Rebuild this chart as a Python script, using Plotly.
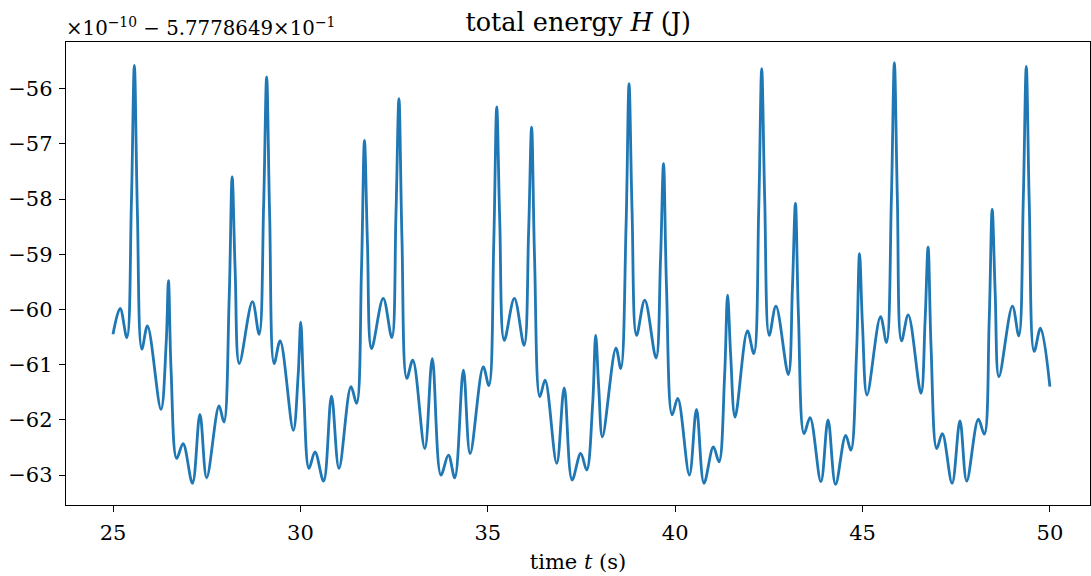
import plotly.graph_objects as go

# time (s)
t_s = [25.00, 25.19, 25.37, 25.49, 25.57, 25.65, 25.77, 25.92, 26.28, 26.42,
       26.48, 26.55, 26.70, 26.87, 27.12, 27.32, 27.50, 27.83, 27.96, 28.10,
       28.18, 28.26, 28.37, 28.72, 28.90, 29.02, 29.10, 29.18, 29.30, 29.46,
       29.81, 29.94, 30.01, 30.09, 30.23, 30.39, 30.62, 30.83, 31.03, 31.35,
       31.50, 31.63, 31.71, 31.79, 31.90, 32.21, 32.44, 32.55, 32.63, 32.71,
       32.84, 33.00, 33.32, 33.52, 33.75, 33.95, 34.12, 34.35, 34.53, 34.88,
       35.03, 35.16, 35.24, 35.32, 35.44, 35.71, 35.97, 36.09, 36.17, 36.25,
       36.39, 36.53, 36.84, 37.04, 37.25, 37.48, 37.64, 37.80, 37.88, 37.96,
       38.06, 38.42, 38.55, 38.69, 38.77, 38.85, 38.97, 39.19, 39.49, 39.61,
       39.69, 39.77, 39.92, 40.07, 40.38, 40.57, 40.77, 41.02, 41.17, 41.32,
       41.40, 41.48, 41.60, 41.93, 42.10, 42.23, 42.31, 42.39, 42.51, 42.69,
       43.02, 43.13, 43.21, 43.29, 43.44, 43.60, 43.89, 44.08, 44.28, 44.55,
       44.69, 44.84, 44.92, 45.00, 45.12, 45.48, 45.64, 45.77, 45.85, 45.93,
       46.04, 46.22, 46.56, 46.67, 46.75, 46.83, 46.98, 47.13, 47.39, 47.60,
       47.78, 48.09, 48.25, 48.38, 48.46, 48.54, 48.64, 49.00, 49.17, 49.29,
       49.37, 49.45, 49.58, 49.75, 50.00]

# total energy offset values (x1e-10, relative to 5.7778649e-1)
energy = [-60.45, -59.98, -60.51, -58.10, -55.58, -58.20, -60.72, -60.30, -61.81, -60.60,
          -59.48, -61.10, -62.70, -62.43, -63.15, -61.90, -63.05, -61.75, -62.04, -59.80,
          -57.60, -59.30, -60.98, -59.86, -60.45, -58.10, -55.79, -58.30, -60.98, -60.57,
          -62.19, -61.20, -60.23, -61.50, -62.88, -62.58, -63.11, -61.57, -62.88, -61.40,
          -61.70, -59.30, -56.94, -58.80, -60.71, -59.80, -60.51, -58.30, -56.18, -58.70,
          -61.25, -60.92, -62.52, -60.89, -63.00, -62.64, -63.05, -61.10, -62.61, -61.04,
          -61.38, -58.80, -56.33, -58.40, -60.56, -59.80, -60.65, -58.60, -56.70, -59.10,
          -61.58, -61.28, -62.79, -61.42, -63.09, -62.61, -62.91, -61.70, -60.47, -61.40,
          -62.31, -60.70, -61.07, -58.50, -55.91, -58.20, -60.47, -59.83, -60.88, -59.10,
          -57.36, -59.60, -61.91, -61.61, -63.00, -61.81, -63.15, -62.49, -62.76, -61.20,
          -59.74, -60.80, -61.95, -60.39, -60.80, -58.20, -55.64, -58.00, -60.47, -59.94,
          -61.18, -59.60, -58.08, -60.10, -62.25, -61.96, -63.12, -62.00, -63.17, -62.28,
          -62.55, -60.80, -58.99, -60.30, -61.55, -60.13, -60.60, -58.00, -55.53, -58.00,
          -60.57, -60.10, -61.52, -60.20, -58.87, -60.70, -62.52, -62.25, -63.15, -62.02,
          -63.11, -61.99, -62.26, -60.20, -58.19, -59.70, -61.22, -59.94, -60.48, -58.00,
          -55.60, -58.10, -60.76, -60.34, -61.40]

x_ticks = [25, 30, 35, 40, 45, 50]
y_ticks = [-56, -57, -58, -59, -60, -61, -62, -63]

FONT = "DejaVu Serif"

fig = go.Figure()
fig.add_trace(go.Scatter(
    x=t_s, y=energy, mode="lines",
    line=dict(color="#1f77b4", width=2.8, shape="spline", smoothing=1.0),
    showlegend=False, hoverinfo="skip",
))

axis_common = dict(
    showline=True, linecolor="black", linewidth=1.4, mirror=True,
    ticks="outside", ticklen=6, tickwidth=1.1, tickcolor="black",
    showgrid=False, zeroline=False, automargin=False,
    tickfont=dict(family=FONT, size=21, color="black"),
)

fig.update_layout(
    width=1091, height=576,
    margin=dict(l=66, r=1, t=42, b=71),
    paper_bgcolor="white", plot_bgcolor="white",
    title=dict(text="total energy <i>H</i> (J)", x=0.53, xanchor="center",
               y=0.962, yanchor="middle", automargin=False,
               font=dict(family=FONT, size=25.5, color="black")),
    xaxis=dict(range=[23.746, 51.07], tickvals=x_ticks,
               ticktext=[str(v) for v in x_ticks],
               ticklabelstandoff=3,
               title=dict(text="time <i>t</i> (s)", standoff=9,
                          font=dict(family=FONT, size=21, color="black")),
               **axis_common),
    yaxis=dict(range=[-63.543, -55.156], tickvals=y_ticks,
               ticktext=["\u2212" + str(abs(v)) for v in y_ticks],
               ticklabelstandoff=2,
               **axis_common),
    annotations=[dict(
        text="\u00d710<sup>\u221210</sup> \u2212 5.7778649\u00d710<sup>\u22121</sup>",
        xref="paper", yref="paper", x=0, y=1.0, xanchor="left", yanchor="bottom",
        xshift=-2, yshift=0, showarrow=False,
        font=dict(family=FONT, size=19.8, color="black"),
    )],
)

# remove the browser's default 8px body margin so the figure fills the window
fig.write_html("out.html",
               config={"displayModeBar": False},
               post_script="document.body.style.margin='0';document.body.style.overflow='hidden';")
